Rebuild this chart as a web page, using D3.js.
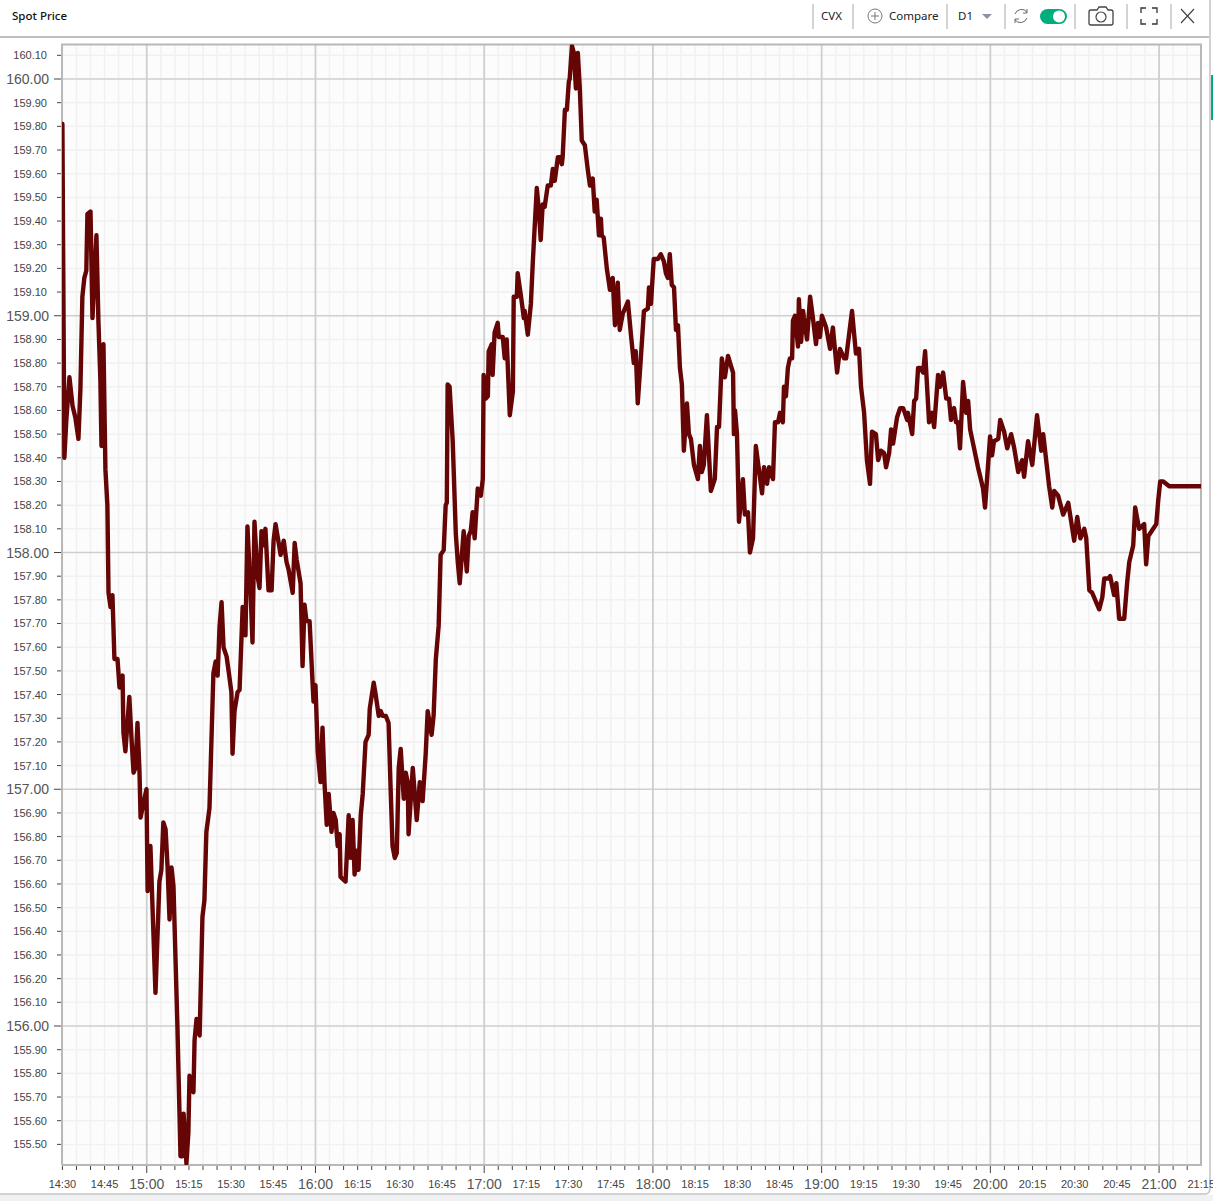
<!DOCTYPE html>
<html><head><meta charset="utf-8">
<style>html,body{margin:0;padding:0;background:#fff;overflow:hidden}svg{display:block}text{font-family:"Liberation Sans",Arial,sans-serif}</style>
<script src="https://cdn.jsdelivr.net/npm/d3@7/dist/d3.min.js"></script>
</head><body><svg id="c" width="1213" height="1201"></svg>
<script>
// minutes after 14:30
const minutes=[0,0.7,1.4,2.5,3.6,4.6,5.7,6.4,7.1,7.8,8.5,8.9,10,10.7,12.1,12.8,13.5,13.9,14.6,15.3,16,16.4,17.1,17.8,18.5,19.6,20.3,21.4,21.7,22.4,23.8,24.6,25.3,26,26.7,27.4,27.8,28.8,29.9,30.3,31.3,33.1,34.5,35.2,35.9,36.7,37.4,38.1,38.8,39.5,40.9,42,42.7,43.1,44.1,44.8,45.2,46.6,47,47.7,48.8,49.8,50.5,51.2,52.3,53.7,54.5,55.2,55.9,56.6,57.3,58.4,59.1,60.1,60.5,61.2,62.3,63,64.1,65.1,65.8,66.9,67.6,68.3,69.4,70.1,70.8,71.5,72.2,73.3,74.4,75.1,75.8,76.5,77.6,78.7,79.7,80.4,81.9,82.6,83.3,84.7,85.4,86.1,86.8,87.9,89,89.3,90,90.8,91.8,92.5,93.2,94,94.7,95.7,96.4,97.2,97.9,98.6,98.9,100.7,101.8,102.5,103.2,103.9,104.6,105.3,106.1,106.8,107.8,108.9,109.3,110.7,111.4,112.5,113.2,113.9,115,116,116.7,117.4,118.2,118.9,119.6,120.3,121.4,122.1,122.8,123.1,124.6,125.3,126,127.1,128.1,129.2,129.9,131.3,132,132.8,133.8,134.5,135.6,136.3,136.7,137,137.7,138.8,139.9,140.6,141.3,142.7,143.8,144.5,145.2,145.9,146.6,147.7,148.8,149.5,149.8,150.5,151.3,151.6,152.7,153,153.7,154.8,155.2,156.6,157.3,158,159.1,160.2,160.5,161.6,161.9,163,164.1,164.4,165.5,166.6,167.3,168.7,169.4,170.1,170.8,171.5,172.6,173.7,174.4,175.1,176.2,176.9,177.6,177.9,178.7,179.4,180.1,180.4,181.2,181.9,182.6,183.3,184,184.7,185.8,186.8,187.6,188.6,189.3,190,190.8,191.5,191.8,192.5,193.6,194.7,195.7,196.5,197.5,198.2,199.3,200.4,201.1,202.1,203.2,203.9,204.6,205.7,206.8,208.2,208.6,209.3,210.3,211.8,212.8,213.9,214.6,215.3,216,216.7,217.5,218.2,218.9,219.6,220.3,221,222.1,222.8,223.5,224.6,226,226.7,227.4,228.1,229.2,230.6,232,232.8,233.5,234.5,235.6,236.7,237.7,238.5,238.8,239.2,239.9,240.6,242,242.7,243.8,244.5,245.6,246.6,248.8,249.5,250.6,251.3,252.7,253.4,254.5,255.2,256.2,256.6,257.3,258,258.7,259.5,259.8,260.5,261.6,261.9,262.7,263.4,263.7,264.8,265.9,266.9,268,268.7,269.4,270.1,271.6,273,274,275.5,276.5,278,278.7,280.8,282.2,283.3,284,285.1,286.1,287.2,287.9,289.3,290.1,291.1,292.2,292.9,294,294.7,295.4,296.8,297.9,299,300.4,300.7,302.2,302.9,303.6,304.3,305,306.1,306.8,308.2,309.3,310,311.4,312.1,313.2,314.3,315.3,316,317.1,317.8,318.5,319.2,320.3,321.4,322.1,322.8,323.5,325.6,327.4,328.1,329.9,330.6,331.3,332.8,333.5,334.9,336,337.4,338.5,339.9,341.3,342,343.4,344.9,346.6,348.1,348.8,350.9,352,352.7,354.1,355.9,357.7,359.8,360.9,362,363.4,364.1,365.2,366.2,367.6,368.7,369.8,370.5,371.9,372.6,374,374.8,375.8,377.6,378.7,379.4,380.8,381.5,382.9,384.7,385.4,386.2,387.9,389,389.7,390.4,391.5,393.6,405];
const prices=[159.81,158.40,158.56,158.74,158.62,158.57,158.48,158.69,159.08,159.16,159.19,159.43,159.44,158.99,159.34,158.98,158.73,158.45,158.88,158.35,158.20,157.83,157.77,157.82,157.55,157.55,157.43,157.48,157.24,157.16,157.39,157.21,157.07,157.09,157.28,157.08,156.88,156.94,157.00,156.57,156.76,156.14,156.61,156.66,156.86,156.83,156.67,156.45,156.67,156.59,156.00,155.45,155.45,155.63,155.42,155.55,155.79,155.72,155.94,156.03,155.96,156.46,156.53,156.82,156.92,157.49,157.54,157.48,157.69,157.79,157.60,157.56,157.50,157.41,157.15,157.33,157.41,157.42,157.77,157.65,158.11,157.84,157.62,158.13,157.90,157.85,158.09,158.03,158.10,157.84,157.84,158.05,158.12,158.07,157.99,158.05,157.96,157.93,157.83,158.04,157.97,157.87,157.52,157.78,157.71,157.71,157.44,157.37,157.44,157.16,157.03,157.26,157.03,156.85,156.98,156.82,156.90,156.87,156.76,156.81,156.63,156.61,156.89,156.71,156.87,156.64,156.74,156.66,156.89,156.98,157.20,157.23,157.34,157.45,157.40,157.31,157.33,157.31,157.31,157.28,157.01,156.76,156.71,156.73,157.09,157.17,156.96,157.07,157.03,156.81,157.09,156.98,156.87,157.03,156.95,157.15,157.33,157.23,157.31,157.55,157.69,157.99,158.01,158.20,158.21,158.71,158.70,158.47,158.08,157.96,157.87,158.09,157.92,158.07,158.09,158.17,158.06,158.27,158.24,158.31,158.75,158.65,158.66,158.85,158.88,158.75,158.93,158.97,158.91,158.91,158.82,158.90,158.58,158.68,159.08,159.08,159.18,159.09,158.99,159.02,158.92,159.05,159.23,159.54,159.45,159.32,159.47,159.46,159.55,159.55,159.62,159.57,159.67,159.67,159.64,159.67,159.87,159.87,159.99,160.00,160.14,160.11,159.96,160.11,159.96,159.74,159.72,159.62,159.55,159.58,159.44,159.49,159.34,159.41,159.34,159.33,159.20,159.11,159.16,158.96,159.14,158.94,159.01,159.04,159.06,158.93,158.80,158.85,158.63,158.82,159.02,159.03,159.12,159.05,159.24,159.24,159.26,159.23,159.18,159.16,159.26,159.13,159.12,158.94,158.96,158.78,158.71,158.43,158.63,158.50,158.48,158.37,158.31,158.45,158.34,158.37,158.58,158.26,158.31,158.53,158.53,158.82,158.74,158.83,158.79,158.76,158.50,158.60,158.50,158.13,158.31,158.16,158.17,158.00,158.06,158.45,158.25,158.36,158.29,158.36,158.31,158.55,158.55,158.59,158.55,158.70,158.66,158.78,158.82,158.82,158.98,159.00,158.87,159.07,158.89,159.02,158.99,158.90,159.08,158.99,158.88,158.97,158.91,159.00,158.95,158.86,158.95,158.76,158.86,158.82,158.82,159.02,158.84,158.86,158.70,158.59,158.39,158.29,158.51,158.50,158.39,158.43,158.42,158.36,158.42,158.52,158.46,158.57,158.61,158.61,158.56,158.59,158.50,158.64,158.65,158.78,158.78,158.76,158.85,158.55,158.59,158.53,158.75,158.70,158.76,158.65,158.65,158.56,158.61,158.55,158.55,158.44,158.72,158.59,158.64,158.52,158.48,158.36,158.27,158.19,158.49,158.41,158.47,158.48,158.56,158.51,158.44,158.50,158.44,158.34,158.39,158.32,158.47,158.37,158.58,158.43,158.50,158.28,158.19,158.26,158.24,158.16,158.21,158.05,158.15,158.06,158.10,158.06,157.84,157.83,157.79,157.76,157.81,157.89,157.89,157.90,157.82,157.87,157.72,157.72,157.88,157.96,158.03,158.19,158.10,158.12,157.95,158.07,158.10,158.12,158.22,158.30,158.30,158.28,158.28];
const timeTicks=d3.range(0,406,5);
const priceTicks=d3.range(155.5,160.11,0.1).map(v=>+v.toFixed(2));
const title="Spot Price", symbol="CVX", compareLabel="Compare", periodLabel="D1";

const X0=62.4,XPM=2.812,Y160=79,YPU=236.75,L=62,R=1201,T=44.5,B=1165;
const x=d3.scaleLinear().domain([0,(R-X0)/XPM]).range([X0,R]);
const y=d3.scaleLinear().domain([160,159]).range([Y160,Y160+YPU]);
const svg=d3.select("#c");

// panel chrome
svg.append("rect").attr("x",-4).attr("y",1195).attr("width",1220).attr("height",10).attr("fill","#f0f1f3");
svg.append("path").attr("d","M0,1194 H1205 Q1210,1194 1210,1188 V0").attr("fill","none").attr("stroke","#c4c4c4").attr("stroke-width",1.5);
svg.append("rect").attr("x",1211).attr("y",75).attr("width",2).attr("height",45).attr("fill","#00ad7c");
svg.append("line").attr("x1",0).attr("x2",1209).attr("y1",37).attr("y2",37).attr("stroke","#a9a9a9").attr("stroke-width",1.5);

// plot background
svg.append("rect").attr("x",L).attr("y",T).attr("width",R-L).attr("height",B-T).attr("fill","#fcfcfc");
const isHour=m=>m%60===30;
const isMajorP=p=>Math.abs(p-Math.round(p))<1e-6;
const g=svg.append("g");
g.selectAll(".vm").data(timeTicks.filter(m=>!isHour(m))).join("line").attr("x1",d=>x(d)).attr("x2",d=>x(d)).attr("y1",T).attr("y2",B).attr("stroke","#f1f1f1").attr("stroke-width",1.5);
g.selectAll(".hm").data(priceTicks.filter(p=>!isMajorP(p))).join("line").attr("x1",L).attr("x2",R).attr("y1",d=>y(d)).attr("y2",d=>y(d)).attr("stroke","#f1f1f1").attr("stroke-width",1.5);
g.selectAll(".vM").data(timeTicks.filter(isHour)).join("line").attr("x1",d=>x(d)).attr("x2",d=>x(d)).attr("y1",T).attr("y2",B).attr("stroke","#cfcfcf").attr("stroke-width",1.8);
g.selectAll(".hM").data(priceTicks.filter(isMajorP)).join("line").attr("x1",L).attr("x2",R).attr("y1",d=>y(d)).attr("y2",d=>y(d)).attr("stroke","#cfcfcf").attr("stroke-width",1.6);

// border
svg.append("path").attr("d",`M${L},${B} V${T} H${R} V${B} H${L}`).attr("fill","none").attr("stroke","#b8b8b8").attr("stroke-width",2);

// y axis
const ya=svg.append("g");
ya.selectAll("line").data(priceTicks).join("line").attr("x1",d=>isMajorP(d)?54:57).attr("x2",61).attr("y1",d=>y(d)).attr("y2",d=>y(d)).attr("stroke","#444").attr("stroke-width",1);
ya.selectAll("text").data(priceTicks).join("text").attr("x",d=>isMajorP(d)?49:47).attr("y",d=>y(d)).attr("dy","0.36em").attr("text-anchor","end")
  .attr("font-size",d=>isMajorP(d)?14:11).attr("fill",d=>isMajorP(d)?"#555":"#444").text(d=>d.toFixed(2));

// x axis
const fmtT=m=>{const t=14*60+30+m;return String(Math.floor(t/60)).padStart(2,"0")+":"+String(t%60).padStart(2,"0")};
const xa=svg.append("g");
xa.selectAll("line").data(timeTicks.filter(m=>x(m)<=R)).join("line").attr("x1",d=>x(d)).attr("x2",d=>x(d)).attr("y1",1166).attr("y2",d=>isHour(d)?1173:1170).attr("stroke","#444").attr("stroke-width",1);
xa.selectAll("text").data(timeTicks.filter(m=>m%15===0)).join("text").attr("x",d=>x(d)).attr("y",1184).attr("dy","0.36em").attr("text-anchor","middle")
  .attr("font-size",d=>isHour(d)?14:11).attr("fill",d=>isHour(d)?"#555":"#444").text(fmtT);

// price line
const clip=svg.append("clipPath").attr("id","pc").append("rect").attr("x",L).attr("y",T).attr("width",R-L).attr("height",B-T);
svg.append("path").datum(d3.zip(minutes,prices)).attr("clip-path","url(#pc)")
  .attr("d",d3.line().x(d=>x(d[0])).y(d=>y(d[1]))).attr("fill","none").attr("stroke","#650505").attr("stroke-width",4.4).attr("stroke-linejoin","round").attr("stroke-linecap","round");

// toolbar
const tf="'Noto Sans',sans-serif";
svg.append("text").attr("x",12).attr("y",20).attr("font-size",11.5).attr("font-weight",500).attr("fill","#111").style("font-family",tf).text(title);
const tb=svg.append("g");
[813,853,947,1005,1075,1127,1171].forEach(s=>tb.append("line").attr("x1",s).attr("x2",s).attr("y1",4).attr("y2",29).attr("stroke","#a8a8a8"));
tb.append("text").attr("x",821).attr("y",20).attr("font-size",11.5).attr("fill","#222").style("font-family",tf).text(symbol);
tb.append("circle").attr("cx",875).attr("cy",16).attr("r",7).attr("fill","none").attr("stroke","#777");
tb.append("path").attr("d","M871,16H879M875,12V20").attr("stroke","#777");
tb.append("text").attr("x",889).attr("y",20).attr("font-size",11.5).attr("fill","#222").style("font-family",tf).text(compareLabel);
tb.append("text").attr("x",958).attr("y",20).attr("font-size",11.5).attr("fill","#222").style("font-family",tf).text(periodLabel);
tb.append("path").attr("d","M982,14H992L987,19Z").attr("fill","#8a94a6");
tb.append("path").attr("d","M1015,14A7,7 0 0 1 1027,12M1027,18A7,7 0 0 1 1015,20M1027,9V13H1023M1015,23V19H1019").attr("fill","none").attr("stroke","#666").attr("stroke-width",1);
tb.append("rect").attr("x",1040).attr("y",9).attr("width",27).attr("height",15).attr("rx",7.5).attr("fill","#00ad7c");
tb.append("circle").attr("cx",1059).attr("cy",16.5).attr("r",6).attr("fill","#fff");
tb.append("path").attr("d","M1091,10H1097L1099,7H1106L1108,10H1111Q1113,10 1113,12V23Q1113,25 1111,25H1091Q1089,25 1089,23V12Q1089,10 1091,10Z").attr("fill","none").attr("stroke","#444").attr("stroke-width",1.3);
tb.append("circle").attr("cx",1101).attr("cy",17).attr("r",5).attr("fill","none").attr("stroke","#444").attr("stroke-width",1.2);
tb.append("path").attr("d","M1141,13V8H1146M1152,8H1157V13M1157,19V24H1152M1146,24H1141V19").attr("fill","none").attr("stroke","#333").attr("stroke-width",1.3);
tb.append("path").attr("d","M1181,9L1194,23M1194,9L1181,23").attr("fill","none").attr("stroke","#444").attr("stroke-width",1.2);
</script></body></html>
